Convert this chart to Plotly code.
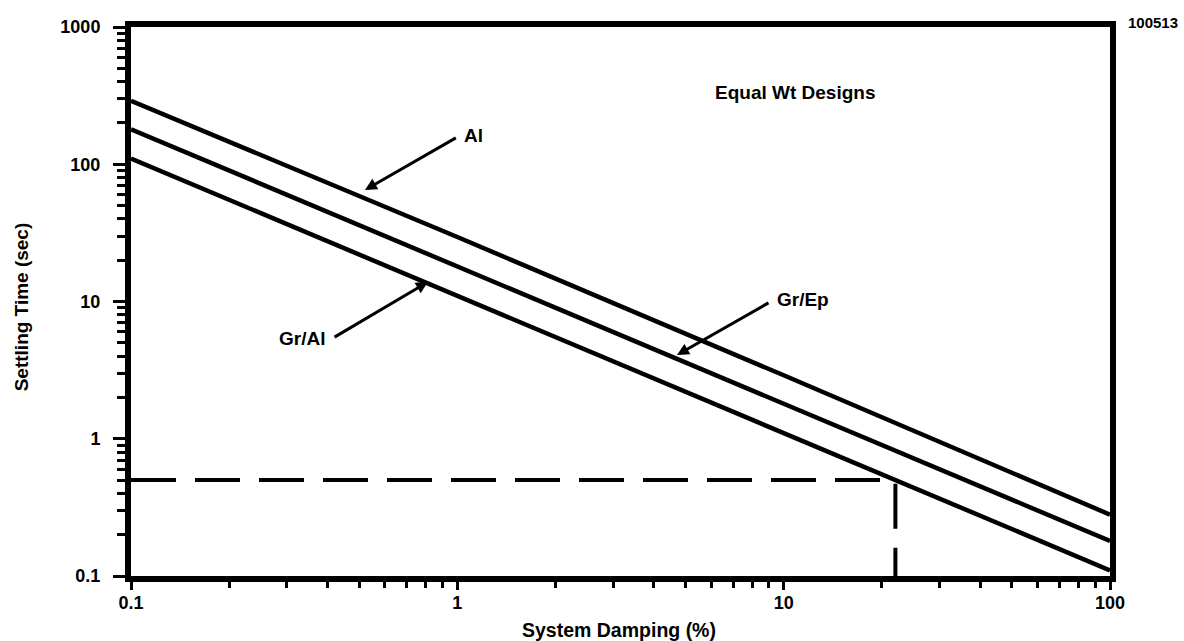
import math
import plotly.graph_objects as go

# ---- data ----
damping = [0.1, 1, 10, 100]                 # System Damping (%)
settle_al = [290, 29.5, 2.9, 0.28]          # Al
settle_grep = [180, 18, 1.8, 0.18]          # Gr/Ep
settle_gral = [110, 11, 1.1, 0.11]          # Gr/Al
dash_x = [0.1, 22, 22]                      # dashed guide
dash_y = [0.5, 0.5, 0.1]

x_ticks = [0.1, 1, 10, 100]
x_ticktext = ["0.1", "1", "10", "100"]
y_ticks = [0.1, 1, 10, 100, 1000]
y_ticktext = ["0.1", "1", "10", "100", "1000"]

x_minor = [m * 10 ** e for e in range(-1, 2) for m in range(2, 10)]
y_minor = [m * 10 ** e for e in range(-1, 3) for m in range(2, 10)]

FONT = "Liberation Sans, Arial, Helvetica, sans-serif"
BLACK = "#000000"

fig = go.Figure()
for ys in (settle_al, settle_grep, settle_gral):
    fig.add_trace(go.Scatter(x=damping, y=ys, mode="lines",
                             line=dict(color=BLACK, width=4.5),
                             showlegend=False, hoverinfo="skip"))
fig.add_trace(go.Scatter(x=dash_x, y=dash_y, mode="lines",
                         line=dict(color=BLACK, width=4, dash="45px,19px"),
                         showlegend=False, hoverinfo="skip"))

def L(v):
    return math.log10(v)

annos = []
# arrows (head at x,y; tail at ax,ay)
arrows = [
    ((0.521, 64.9), (1.0, 158)),     # Al
    ((4.71, 4.07), (9.08, 9.91)),    # Gr/Ep
    ((0.813, 13.9), (0.416, 5.42)),  # Gr/Al
]
for (hx, hy), (tx, ty) in arrows:
    annos.append(dict(x=L(hx), y=L(hy), ax=L(tx), ay=L(ty),
                      xref="x", yref="y", axref="x", ayref="y",
                      text="", showarrow=True, arrowhead=2, arrowsize=0.8,
                      arrowwidth=3, arrowcolor=BLACK, standoff=0, startstandoff=0))

labels = [
    ("Al", 1.03, 163, "left"),
    ("Gr/Ep", 9.42, 10.3, "left"),
    ("Gr/Al", 0.40, 5.42, "right"),
    ("Equal Wt Designs", 10.8, 336, "center"),
]
for txt, x, y, anc in labels:
    annos.append(dict(x=L(x), y=L(y), xref="x", yref="y", text=txt,
                      showarrow=False, xanchor=anc, yanchor="middle",
                      font=dict(family=FONT, size=19, color=BLACK, weight="bold")))

# axis titles and figure id
annos.append(dict(x=0.498, y=-0.098, xref="paper", yref="paper",
                  text="System Damping (%)", showarrow=False,
                  xanchor="center", yanchor="middle",
                  font=dict(family=FONT, size=19.5, color=BLACK, weight="bold")))
annos.append(dict(x=-0.111, y=0.49, xref="paper", yref="paper",
                  text="Settling Time (sec)", showarrow=False, textangle=-90,
                  xanchor="center", yanchor="middle",
                  font=dict(family=FONT, size=19, color=BLACK, weight="bold")))
annos.append(dict(x=1.044, y=1.009, xref="paper", yref="paper",
                  text="100513", showarrow=False,
                  xanchor="center", yanchor="middle",
                  font=dict(family=FONT, size=15, color=BLACK, weight="bold")))

axis_common = dict(type="log", showgrid=False, zeroline=False,
                   showline=True, linecolor=BLACK, linewidth=6, mirror=True,
                   ticks="outside", tickwidth=3, tickcolor=BLACK,
                   tickfont=dict(family=FONT, size=18, color=BLACK, weight="bold"))

fig.update_layout(
    width=1184, height=641,
    margin=dict(l=131, r=74, t=27, b=65),
    paper_bgcolor="white", plot_bgcolor="white",
    xaxis=dict(axis_common, range=[-1, 2], tickmode="array",
               tickvals=x_ticks, ticktext=x_ticktext, ticklen=8,
               ticklabelstandoff=-3,
               minor=dict(ticks="outside", ticklen=6, tickwidth=3,
                          tickcolor=BLACK, tickmode="array", tickvals=x_minor)),
    yaxis=dict(axis_common, range=[-1, 3], tickmode="array",
               tickvals=y_ticks, ticktext=y_ticktext, ticklen=12,
               ticklabelstandoff=9,
               minor=dict(ticks="outside", ticklen=8, tickwidth=3,
                          tickcolor=BLACK, tickmode="array", tickvals=y_minor)),
    annotations=annos,
    showlegend=False,
)

fig.write_html("out.html")
